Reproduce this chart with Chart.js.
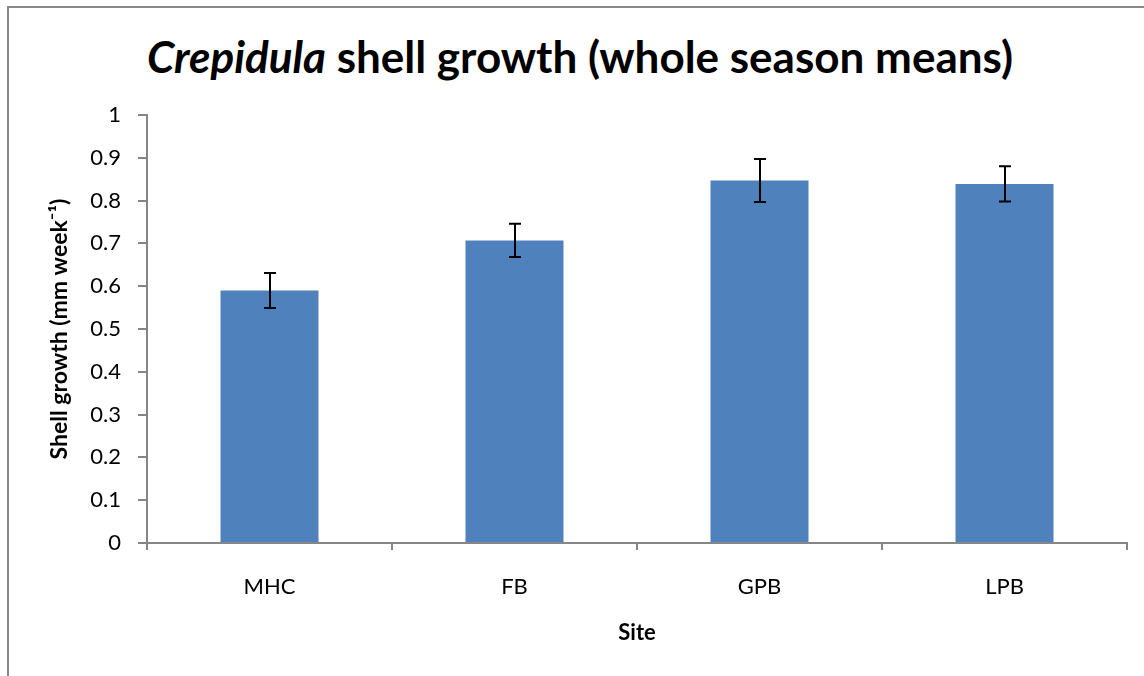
<!DOCTYPE html>
<html lang="en">
<head>
  <meta charset="UTF-8" />
  <title>Crepidula shell growth</title>
  <style>
    * {
      margin: 0;
      padding: 0;
      box-sizing: border-box;
    }

    body {
      background-color: #fff;
      width: 1144px;
      height: 676px;
      overflow: hidden;
      position: relative;
    }

    .frame {
      position: absolute;
      left: 7px;
      top: 6px;
      width: 1137px;
      height: 670px;
      border-left: 2px solid #888;
      border-top: 2px solid #888;
    }

    .chart-title {
      position: absolute;
      left: 0;
      top: 30px;
      width: 1160px;
      text-align: center;
      font-family: 'Lato', sans-serif;
      font-weight: bold;
      font-size: 44px;
      color: #000;
    }

    canvas {
      position: absolute;
      left: 0;
      top: 0;
    }
  </style>
</head>
<body>
  <div class="frame"></div>
  <div class="chart-title"><i>Crepidula</i> shell growth (whole season means)</div>
  <canvas id="growthChart" width="1144" height="676"></canvas>

  <script src="https://cdn.jsdelivr.net/npm/chart.js"></script>
  <script>
    // values
    const sites = ["MHC", "FB", "GPB", "LPB"];
    const meanGrowth = [0.59, 0.707, 0.847, 0.839];
    const errGrowth = [0.041, 0.039, 0.05, 0.041];
    const yTicks = [0, 0.1, 0.2, 0.3, 0.4, 0.5, 0.6, 0.7, 0.8, 0.9, 1];

    const fontFamily = "'Lato', sans-serif";
    const axisGray = "#868686";

    // draws the black whisker for each bar
    const errorBars = {
      id: "errorBars",
      afterDatasetsDraw(chart) {
        const ctx = chart.ctx;
        const yScale = chart.scales.y;
        const meta = chart.getDatasetMeta(0);
        ctx.save();
        ctx.strokeStyle = "#000";
        ctx.lineWidth = 2;
        meta.data.forEach((bar, i) => {
          const top = yScale.getPixelForValue(meanGrowth[i] + errGrowth[i]);
          const bottom = yScale.getPixelForValue(meanGrowth[i] - errGrowth[i]);
          const x = Math.round(bar.x);
          ctx.beginPath();
          ctx.moveTo(x, top);
          ctx.lineTo(x, bottom);
          ctx.moveTo(x - 6, top);
          ctx.lineTo(x + 6, top);
          ctx.moveTo(x - 6, bottom);
          ctx.lineTo(x + 6, bottom);
          ctx.stroke();
        });
        ctx.restore();
      }
    };

    const ctx = document.getElementById("growthChart").getContext("2d");
    new Chart(ctx, {
      type: "bar",
      data: {
        labels: sites,
        datasets: [{
          label: "Shell growth",
          data: meanGrowth,
          backgroundColor: "#4F81BD",
          categoryPercentage: 1,
          barPercentage: 0.4
        }]
      },
      options: {
        responsive: false,
        animation: false,
        layout: {
          padding: { left: 0, right: 17, top: 115, bottom: 0 }
        },
        plugins: {
          legend: { display: false },
          tooltip: { enabled: false }
        },
        scales: {
          x: {
            grid: {
              offset: true,
              drawOnChartArea: false,
              drawTicks: true,
              tickLength: 7,
              color: axisGray,
              lineWidth: 2
            },
            border: { color: axisGray, width: 2 },
            ticks: {
              color: "#000",
              padding: 24,
              font: { family: fontFamily, size: 22 }
            },
            title: {
              display: true,
              text: "Site",
              color: "#000",
              font: { family: fontFamily, size: 22, weight: "bold" },
              padding: { top: 0, bottom: 30 }
            },
            afterFit(scale) {
              scale.height = 133;
            }
          },
          y: {
            min: 0,
            max: 1,
            afterBuildTicks(scale) {
              scale.ticks = yTicks.map(v => ({ value: v }));
            },
            grid: {
              drawOnChartArea: false,
              drawTicks: true,
              tickLength: 9,
              color: axisGray,
              lineWidth: 2
            },
            border: { color: axisGray, width: 2 },
            ticks: {
              color: "#000",
              padding: 17,
              font: { family: fontFamily, size: 22 },
              callback: v => String(v)
            },
            title: {
              display: true,
              text: "Shell growth (mm week\u207B\u00B9)",
              color: "#000",
              font: { family: fontFamily, size: 23, weight: "bold" },
              padding: { top: 46, bottom: 0 }
            },
            afterFit(scale) {
              scale.width = 147;
            }
          }
        }
      },
      plugins: [errorBars]
    });
  </script>
</body>
</html>
